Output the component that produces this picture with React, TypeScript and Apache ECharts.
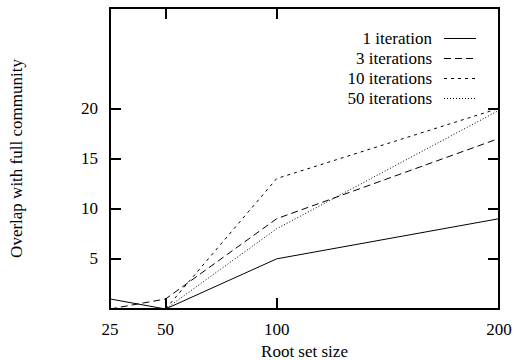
import React, { useEffect, useRef } from "react";
import * as echarts from "echarts";

const rootSizes = [25, 50, 100, 200];
const xTicks = [25, 50, 100, 200];
const yTicks = [5, 10, 15, 20];
const iter1 = [1, 0, 5, 9];
const iter3 = [0, 1, 9, 17];
const iter10 = [0, 0, 13, 20];
const iter50 = [0, 0, 8, 19.8];
const seriesNames = ["1 iteration", "3 iterations", "10 iterations", "50 iterations"];

const FONT = "Liberation Serif";

export default function App() {
  const ref = useRef<HTMLDivElement>(null);
  useEffect(() => {
    if (!ref.current) return;
    const chart = echarts.init(ref.current, null, { renderer: "svg" });
    const toPairs = (vals: number[]) => rootSizes.map((x, i) => [x, vals[i]]);
    const dashes: any[] = ["solid", [7, 4], [3, 4], [1, 2]];
    const all = [iter1, iter3, iter10, iter50];
    const axisLine = { show: true, onZero: false, lineStyle: { color: "#000", width: 2 } };
    const xTick = { show: true, inside: true, length: 11, customValues: xTicks, lineStyle: { color: "#000", width: 2 } };
    const yTick = { show: true, inside: true, length: 11, customValues: yTicks, lineStyle: { color: "#000", width: 2 } };

    const legendGraphics: any[] = [];
    seriesNames.forEach((name, i) => {
      const y = 38.5 + i * 20;
      legendGraphics.push({
        type: "text",
        x: 432,
        y,
        style: { text: name, fill: "#000", fontSize: 17, fontFamily: FONT, align: "right", verticalAlign: "middle" },
      });
      legendGraphics.push({
        type: "line",
        shape: { x1: 444, y1: y, x2: 476, y2: y },
        style: { stroke: "#000", lineWidth: 1, lineDash: dashes[i] === "solid" ? null : dashes[i] },
      });
    });

    chart.setOption({
      animation: false,
      backgroundColor: "#fff",
      textStyle: { fontFamily: FONT },
      grid: { left: 110, right: 17, top: 8, bottom: 51, containLabel: false, outerBoundsMode: "none" },
      graphic: legendGraphics,
      xAxis: [
        {
          type: "value",
          min: 25,
          max: 200,
          position: "bottom",
          axisLine,
          axisTick: xTick,
          splitLine: { show: false },
          axisLabel: { customValues: xTicks, color: "#000", fontSize: 17, fontFamily: FONT, margin: 12 },
          name: "Root set size",
          nameLocation: "middle",
          nameGap: 27,
          nameTextStyle: { color: "#000", fontSize: 17, fontFamily: FONT },
        },
        {
          type: "value",
          min: 25,
          max: 200,
          position: "top",
          axisLine,
          axisTick: xTick,
          splitLine: { show: false },
          axisLabel: { show: false },
        },
      ],
      yAxis: [
        {
          type: "value",
          min: 0,
          max: 30,
          position: "left",
          axisLine,
          axisTick: yTick,
          splitLine: { show: false },
          axisLabel: { customValues: yTicks, color: "#000", fontSize: 17, fontFamily: FONT, margin: 12 },
          name: "Overlap with full community",
          nameLocation: "middle",
          nameRotate: 90,
          nameGap: 85,
          nameTextStyle: { color: "#000", fontSize: 17, fontFamily: FONT },
        },
        {
          type: "value",
          min: 0,
          max: 30,
          position: "right",
          axisLine,
          axisTick: yTick,
          splitLine: { show: false },
          axisLabel: { show: false },
        },
      ],
      series: all.map((vals, i) => ({
        name: seriesNames[i],
        type: "line",
        data: toPairs(vals),
        symbol: "none",
        lineStyle: { color: "#000", width: 1, type: dashes[i] },
        itemStyle: { color: "#000" },
      })),
    });
    return () => chart.dispose();
  }, []);
  return <div ref={ref} style={{ width: 516, height: 360, position: "absolute", left: 0, top: 0 }} />;
}
